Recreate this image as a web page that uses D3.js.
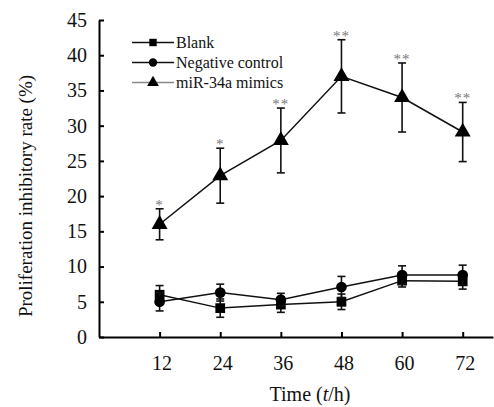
<!DOCTYPE html>
<html>
<head>
<meta charset="utf-8">
<script src="https://cdn.jsdelivr.net/npm/d3@7"></script>
</head>
<body style="margin:0; background:#fff">
<div id="chart"></div>
<script>
// time points (h)
var hours = [12, 24, 36, 48, 60, 72];
var yTicks = [0, 5, 10, 15, 20, 25, 30, 35, 40, 45];

var blankMean = [6.0, 4.1, 4.6, 5.0, 8.0, 7.9];
var blankErr  = [1.3, 1.3, 1.1, 1.1, 0.9, 1.1];
var negMean   = [5.0, 6.3, 5.3, 7.1, 8.8, 8.8];
var negErr    = [1.3, 1.2, 0.9, 1.5, 1.3, 1.4];
var mirMean   = [16.0, 22.9, 27.9, 37.0, 34.0, 29.1];
var mirErr    = [2.2, 3.9, 4.6, 5.2, 4.9, 4.2];
var mirStars  = ["*", "*", "**", "**", "**", "**"];

var seriesNames = ["Blank", "Negative control", "miR-34a mimics"];

var width = 494, height = 407;
var serif = "'Liberation Serif'";

var svg = d3.select("#chart").append("svg")
    .attr("width", width)
    .attr("height", height)
    .style("display", "block");

var x = d3.scaleLinear().domain([0, 78]).range([99, 493]);
var y = d3.scaleLinear().domain([0, 45]).range([337, 20]);

// axes
var yAxis = svg.append("g")
    .attr("transform", "translate(" + x(0) + ",0)")
    .call(d3.axisLeft(y).tickValues(yTicks).tickSizeInner(-5).tickSizeOuter(0).tickPadding(12));
var xAxis = svg.append("g")
    .attr("transform", "translate(0," + y(0) + ")")
    .call(d3.axisBottom(x).tickValues(hours).tickSizeInner(-5).tickSizeOuter(0).tickPadding(19));

[yAxis, xAxis].forEach(function(a) {
  a.select(".domain").attr("stroke", "#000").attr("stroke-width", 2);
  a.selectAll(".tick line").attr("stroke", "#000").attr("stroke-width", 2);
  a.selectAll(".tick text")
    .style("font-family", serif)
    .style("font-size", "20px")
    .attr("fill", "#111");
});
xAxis.selectAll(".tick text").attr("dx", 2);

// axis titles
var xTitle = svg.append("text")
    .attr("x", 310).attr("y", 401)
    .attr("text-anchor", "middle")
    .style("font-family", serif)
    .style("font-size", "20px")
    .attr("fill", "#111");
xTitle.append("tspan").text("Time (");
xTitle.append("tspan").style("font-style", "italic").text("t");
xTitle.append("tspan").text("/h)");

svg.append("text")
    .attr("transform", "translate(32,196) rotate(-90)")
    .attr("text-anchor", "middle")
    .style("font-family", serif)
    .style("font-size", "19px")
    .attr("fill", "#111")
    .text("Proliferation inhibitory rate (%)");

var series = [
  { name: seriesNames[0], mean: blankMean, err: blankErr, shape: d3.symbolSquare, size: 95 },
  { name: seriesNames[1], mean: negMean, err: negErr, shape: d3.symbolCircle, size: 90 },
  { name: seriesNames[2], mean: mirMean, err: mirErr, shape: d3.symbolTriangle, size: 110 }
];

var line = d3.line()
    .x(function(d) { return x(d.h); })
    .y(function(d) { return y(d.v); });

series.forEach(function(s) {
  var pts = hours.map(function(h, i) { return { h: h, v: s.mean[i], e: s.err[i] }; });
  var g = svg.append("g");

  // error bars
  var eb = g.selectAll(".eb").data(pts).enter().append("g").attr("stroke", "#111").attr("stroke-width", 1.6);
  eb.append("line")
    .attr("x1", function(d) { return x(d.h); }).attr("x2", function(d) { return x(d.h); })
    .attr("y1", function(d) { return y(d.v - d.e); }).attr("y2", function(d) { return y(d.v + d.e); });
  eb.append("line")
    .attr("x1", function(d) { return x(d.h) - 4; }).attr("x2", function(d) { return x(d.h) + 4; })
    .attr("y1", function(d) { return y(d.v + d.e); }).attr("y2", function(d) { return y(d.v + d.e); });
  eb.append("line")
    .attr("x1", function(d) { return x(d.h) - 4; }).attr("x2", function(d) { return x(d.h) + 4; })
    .attr("y1", function(d) { return y(d.v - d.e); }).attr("y2", function(d) { return y(d.v - d.e); });

  g.append("path")
    .datum(pts)
    .attr("fill", "none")
    .attr("stroke", "#111")
    .attr("stroke-width", 1.5)
    .attr("d", line);

  g.selectAll(".pt").data(pts).enter().append("path")
    .attr("transform", function(d) { return "translate(" + x(d.h) + "," + y(d.v) + ")"; })
    .attr("d", d3.symbol().type(s.shape).size(s.size))
    .attr("fill", "#000");
});

// significance marks
svg.selectAll(".star").data(hours).enter().append("text")
    .attr("x", function(h) { return x(h); })
    .attr("y", function(h, i) { return y(mirMean[i] + mirErr[i]) + 1; })
    .attr("text-anchor", "middle")
    .style("font-family", serif)
    .style("font-size", "15px")
    .style("letter-spacing", "1px")
    .attr("fill", "#777")
    .text(function(h, i) { return mirStars[i]; });

// legend
var legend = svg.append("g");
series.forEach(function(s, i) {
  var ly = 42.5 + i * 20;
  var col = i === 2 ? "#888" : "#111";
  legend.append("line")
    .attr("x1", 132).attr("x2", 174).attr("y1", ly).attr("y2", ly)
    .attr("stroke", col).attr("stroke-width", 1.3);
  legend.append("path")
    .attr("transform", "translate(153," + ly + ")")
    .attr("d", d3.symbol().type(s.shape).size(i === 2 ? 60 : 55))
    .attr("fill", "#000");
  legend.append("text")
    .attr("x", 176).attr("y", ly + 5.5)
    .style("font-family", serif)
    .style("font-size", "16px")
    .attr("fill", "#111")
    .text(s.name);
});
</script>
</body>
</html>
